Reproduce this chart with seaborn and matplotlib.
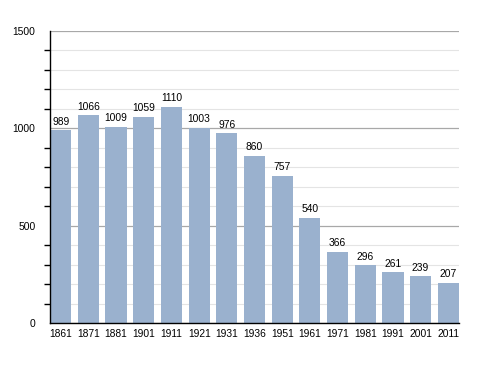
import matplotlib
matplotlib.use("Agg")
import matplotlib.pyplot as plt
import seaborn as sns
import pandas as pd
from matplotlib.ticker import MultipleLocator

years = ["1861", "1871", "1881", "1901", "1911", "1921", "1931", "1936",
         "1951", "1961", "1971", "1981", "1991", "2001", "2011"]
population = [989, 1066, 1009, 1059, 1110, 1003, 976, 860,
              757, 540, 366, 296, 261, 239, 207]

df = pd.DataFrame({"year": years, "pop": population})

sns.set_style("white")
plt.rcParams['font.family'] = ['Liberation Sans', 'DejaVu Sans']
plt.rcParams['text.color'] = 'black'
plt.rcParams['xtick.color'] = 'black'
plt.rcParams['ytick.color'] = 'black'

fig = plt.figure(figsize=(4.88, 3.73), dpi=100)
ax = fig.add_axes([50/488, 1 - 323/373, 409/488, 292/373])

sns.barplot(data=df, x="year", y="pop", color="#9ab1ce", saturation=1,
            width=0.77, ax=ax, linewidth=0, edgecolor="none")

for p in ax.patches:
    p.set_zorder(3)

ax.set_ylim(0, 1500)
ax.set_xlim(-0.39, 14.39)
ax.yaxis.set_major_locator(MultipleLocator(500))
ax.yaxis.set_minor_locator(MultipleLocator(100))
ax.set_axisbelow(True)
ax.grid(axis="y", which="major", color="#a8a8a8", linewidth=0.9)
ax.grid(axis="y", which="minor", color="#e4e4e4", linewidth=0.8)

for s in ["top", "right"]:
    ax.spines[s].set_visible(False)
for s in ["left", "bottom"]:
    ax.spines[s].set_color("black")
    ax.spines[s].set_linewidth(1.0)
    ax.spines[s].set_zorder(4)

fs = 7.4
ax.tick_params(axis="y", which="major", length=5, width=1, color="black",
               labelsize=fs, pad=5.5, labelcolor="black")
ax.tick_params(axis="y", which="minor", length=4, width=1, color="black", left=True)
ax.tick_params(axis="x", length=0, labelsize=fs, pad=4, labelcolor="black")
ax.set_xlabel("")
ax.set_ylabel("")

for c in ax.containers:
    ax.bar_label(c, labels=[str(v) for v in population], padding=2.5,
                 fontsize=fs, color="black")

fig.savefig("out.png", dpi=100)
